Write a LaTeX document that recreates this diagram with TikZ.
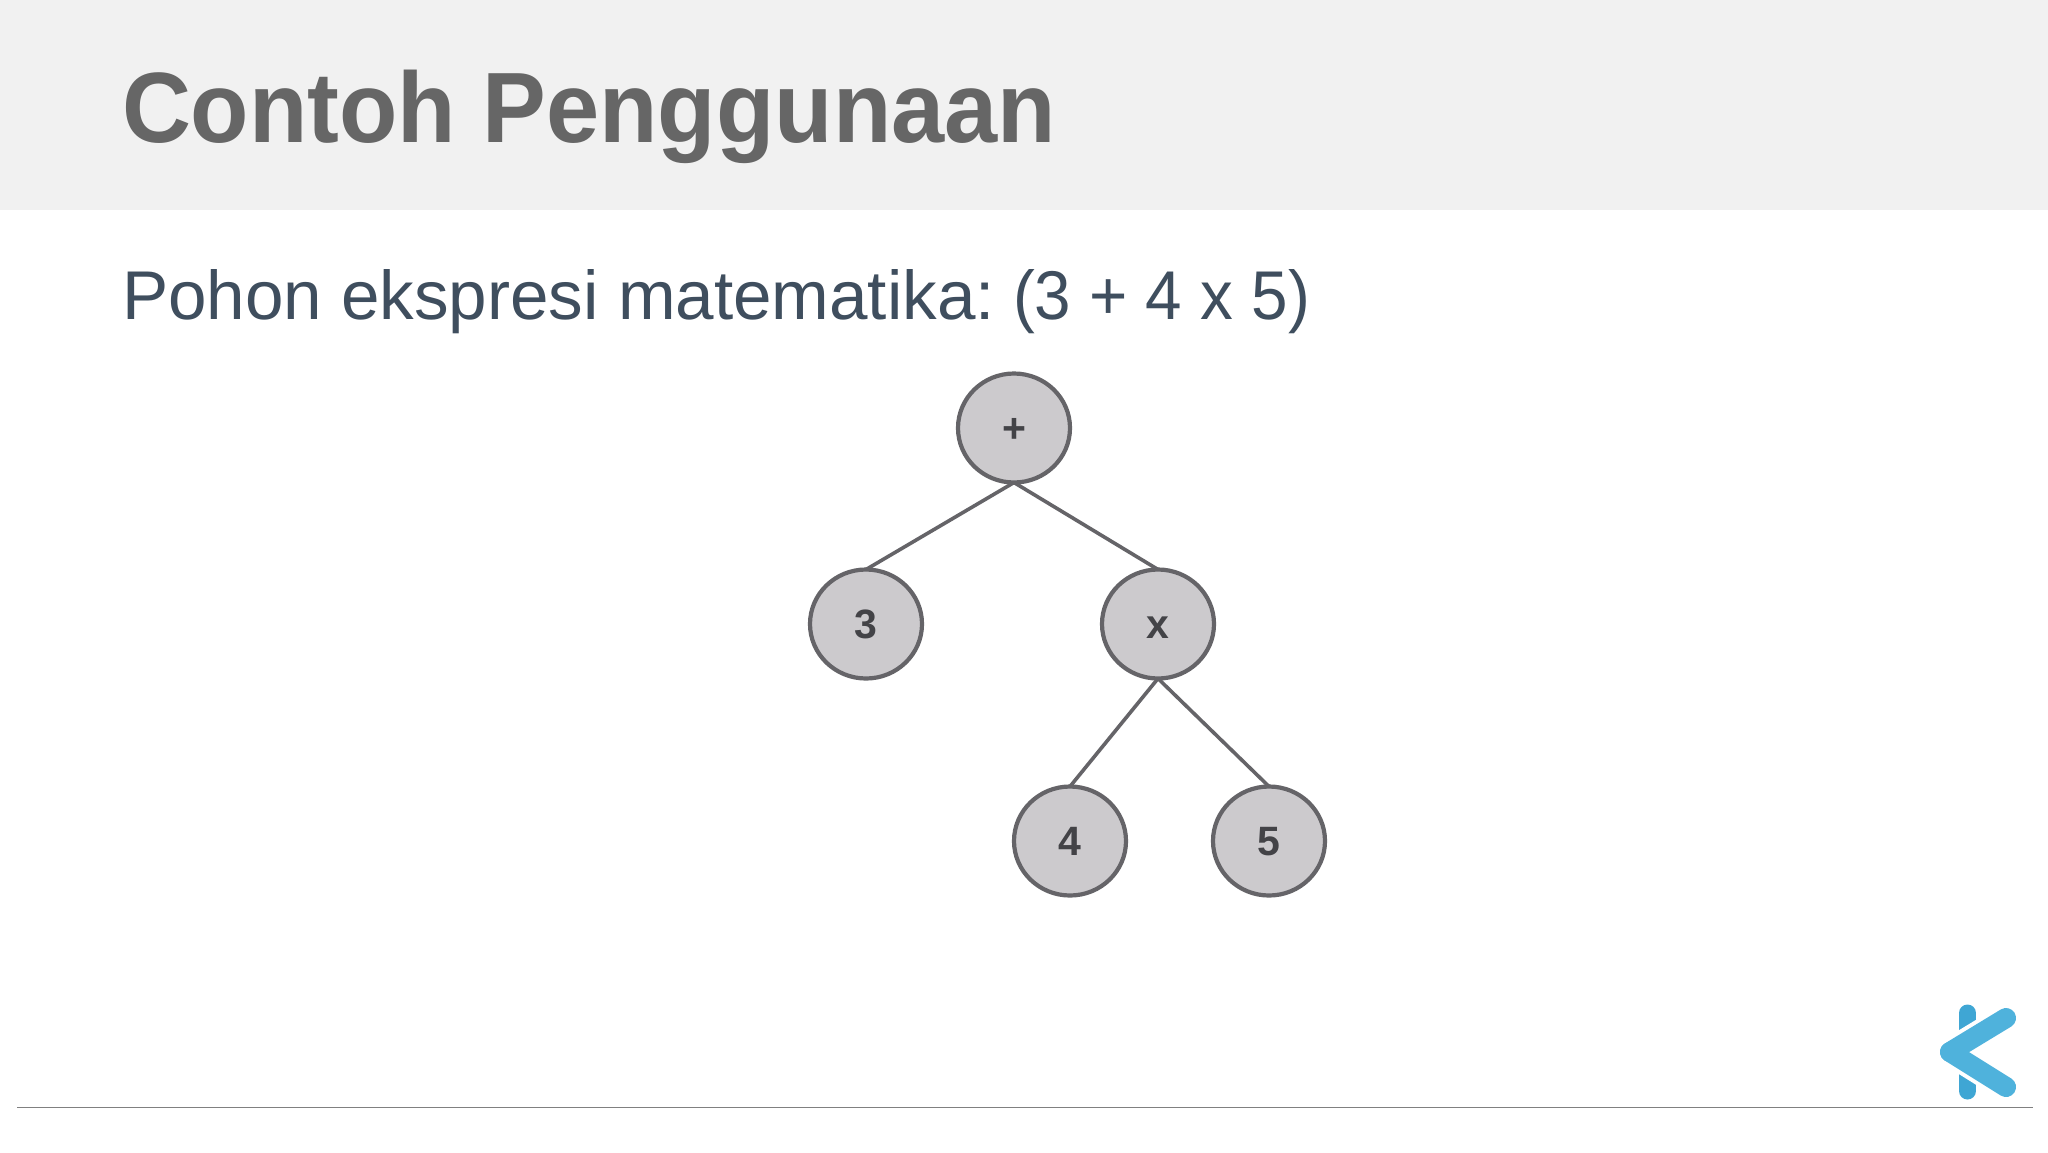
\documentclass[tikz,border=0pt]{standalone}
\usepackage{fontspec}
\setmainfont{Liberation Sans}
\usetikzlibrary{shapes.geometric}
\definecolor{bandgray}{HTML}{F1F1F1}
\definecolor{titlegray}{HTML}{666666}
\definecolor{bodyslate}{HTML}{3F4E5E}
\definecolor{nodefill}{HTML}{CCCACD}
\definecolor{nodeline}{HTML}{656468}
\definecolor{nodetext}{HTML}{434347}
\definecolor{footline}{HTML}{808080}
\definecolor{logoarm}{HTML}{4FB2DC}
\definecolor{logostem}{HTML}{3FA6D4}
\tikzset{
  treenode/.style={ellipse,draw=nodeline,fill=nodefill,line width=4.2pt,minimum width=112pt,minimum height=109pt,
    inner sep=0pt,outer sep=0pt,text=nodetext,text height=28pt,text depth=0pt,font=\bfseries\fontsize{41}{41}\selectfont},
  treeedge/.style={draw=nodeline,line width=3.6pt},
  titletext/.style={anchor=base west,inner sep=0pt,outer sep=0pt,text=titlegray,font=\bfseries\fontsize{100}{110}\selectfont},
  bodytext/.style={anchor=base west,inner sep=0pt,outer sep=0pt,text=bodyslate,font=\fontsize{69}{80}\selectfont},
  logostroke/.style={line cap=round,line join=round}
}
\begin{document}
\begin{tikzpicture}[x=1pt,y=-1pt]
\useasboundingbox (0,0) rectangle (2048,1152);
\fill[white] (0,0) rectangle (2048,1152);
\fill[bandgray] (0,0) rectangle (2048,209.5);
\node[titletext] (title) at (122,142) {\resizebox{934pt}{\height}{Contoh Penggunaan}};
\node[bodytext] (body) at (122,319) {\resizebox{873pt}{\height}{Pohon ekspresi matematika:}\hspace{18pt}\resizebox{297pt}{\height}{(3 + 4 x 5)}};
\node[treenode] (plus) at (1014,428) {+};
\node[treenode] (three) at (866,624) {3};
\node[treenode] (times) at (1158,624) {x};
\node[treenode] (four) at (1070,841) {4};
\node[treenode] (five) at (1269,841) {5};
\draw[treeedge] (plus.south) -- (three.north);
\draw[treeedge] (plus.south) -- (times.north);
\draw[treeedge] (times.south) -- (four.north);
\draw[treeedge] (times.south) -- (five.north);
\coordinate (footL) at (17,1107.5);
\coordinate (footR) at (2033,1107.5);
\draw[footline,line width=1.5pt] (footL) -- (footR);
\coordinate (stemT) at (1967.5,1013);
\coordinate (stemB) at (1967.5,1091);
\coordinate (armT) at (2006,1018);
\coordinate (armV) at (1950,1052);
\coordinate (armB) at (2006,1087);
\draw[logostem,logostroke,line width=17pt] (stemT) -- (stemB);
\draw[white,line width=28pt,line cap=butt,line join=round] (armT) -- (armV) -- (armB);
\draw[logoarm,logostroke,line width=20pt] (armV) -- (armB);
\draw[logoarm,logostroke,line width=20pt] (armT) -- (armV);
\end{tikzpicture}
\end{document}
